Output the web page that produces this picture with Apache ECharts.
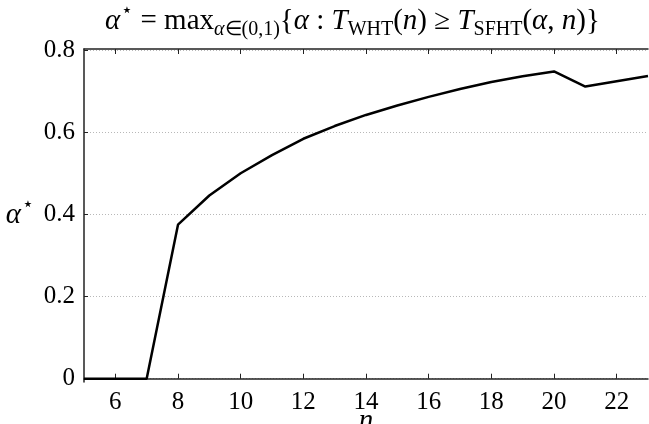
<!DOCTYPE html>
<html>
<head>
<meta charset="utf-8">
<script src="https://cdn.jsdelivr.net/npm/echarts@6/dist/echarts.min.js"></script>
<style>
  html, body { margin:0; padding:0; background:#fff; }
  #plot { width:649px; height:424px; }
</style>
</head>
<body>
<div id="plot"></div>
<script>
// data
const nValues     = [5, 6, 7, 8, 9, 10, 11, 12, 13, 14, 15, 16, 17, 18, 19, 20, 21, 22, 23];
const alphaValues = [0, 0, 0, 0.375, 0.446, 0.500, 0.544, 0.584, 0.615, 0.642, 0.665, 0.686, 0.705, 0.722, 0.736, 0.748, 0.711, 0.724, 0.737];
const xTicks = [6, 8, 10, 12, 14, 16, 18, 20, 22];
const yTicks = [0, 0.2, 0.4, 0.6, 0.8];

const el = document.getElementById('plot');
const chart = echarts.init(el, null, { renderer:'canvas' });

const serif = 'Liberation Serif';
const ink = '#000';
const axisCol = '#222';
const gridCol = '#b8b8b8';

const rich = {
  n:   { fontFamily:serif, fontSize:29, color:ink },
  a:   { fontFamily:serif, fontSize:29, color:ink, fontStyle:'italic' },
  sup: { fontFamily:serif, fontSize:19, color:ink, padding:[0,0,20,1] },
  sub: { fontFamily:serif, fontSize:20, color:ink, padding:[16,0,0,0] },
  sbi: { fontFamily:serif, fontSize:20, color:ink, fontStyle:'italic', padding:[16,0,0,0] },
  t:   { fontFamily:serif, fontSize:25, color:ink }
};

const data = nValues.map((n, i) => [n, alphaValues[i]]);

chart.setOption({
  animation:false,
  backgroundColor:'#fff',
  textStyle:{ fontFamily:serif },
  title: {
    text: '{a|α}{sup|⋆}{n| = max}{sbi|α}{sub|∈(0,1)}{n|{}{a|α}{n| : }{a|T}{sub|WHT}{n|(}{a|n}{n|) ≥ }{a|T}{sub|SFHT}{n|(}{a|α}{n|, }{a|n}{n|)}}',
    left:100, top:-3,
    textStyle:{ fontFamily:serif, fontSize:29, color:ink, fontWeight:'normal', rich }
  },
  grid: { left:84, right:1, top:49, bottom:42, outerBoundsMode:'none' },
  xAxis: [
    { type:'value', min:5, max:23, position:'bottom',
      name:'{a|n}', nameLocation:'middle', nameGap:25, nameMoveOverlap:false,
      nameTextStyle:{ rich },
      axisLine:{ show:true, lineStyle:{ color:axisCol, width:1.5 } },
      axisTick:{ show:true, inside:true, length:5, customValues:xTicks, lineStyle:{ color:axisCol } },
      axisLabel:{ customValues:xTicks, margin:8, rich, formatter: v => '{t|' + v + '}' },
      splitLine:{ show:false } },
    { type:'value', min:5, max:23, position:'top',
      axisLine:{ show:true, lineStyle:{ color:axisCol, width:1.5 } },
      axisTick:{ show:true, inside:true, length:5, customValues:xTicks, lineStyle:{ color:axisCol } },
      axisLabel:{ show:false },
      splitLine:{ show:false } }
  ],
  yAxis: {
    type:'value', min:-0.008, max:0.8025,
    name:'{a|α}{sup|⋆}', nameLocation:'middle', nameRotate:0, nameGap:50, nameMoveOverlap:false,
    nameTextStyle:{ rich },
    axisLine:{ show:true, lineStyle:{ color:axisCol, width:1.5 } },
    axisTick:{ show:true, inside:true, length:4, customValues:yTicks, lineStyle:{ color:axisCol } },
    axisLabel:{ customValues:yTicks, margin:9, rich,
      formatter: v => '{t|' + (v === 0 ? '0' : String(Math.round(v*10)/10)) + '}' },
    splitLine:{ show:true, lineStyle:{ color:gridCol, width:1, type:[1,2] } }
  },
  series: [
    { type:'line', data, xAxisIndex:0, showSymbol:false, clip:false,
      lineStyle:{ color:ink, width:2.5 } }
  ]
});
</script>
</body>
</html>
